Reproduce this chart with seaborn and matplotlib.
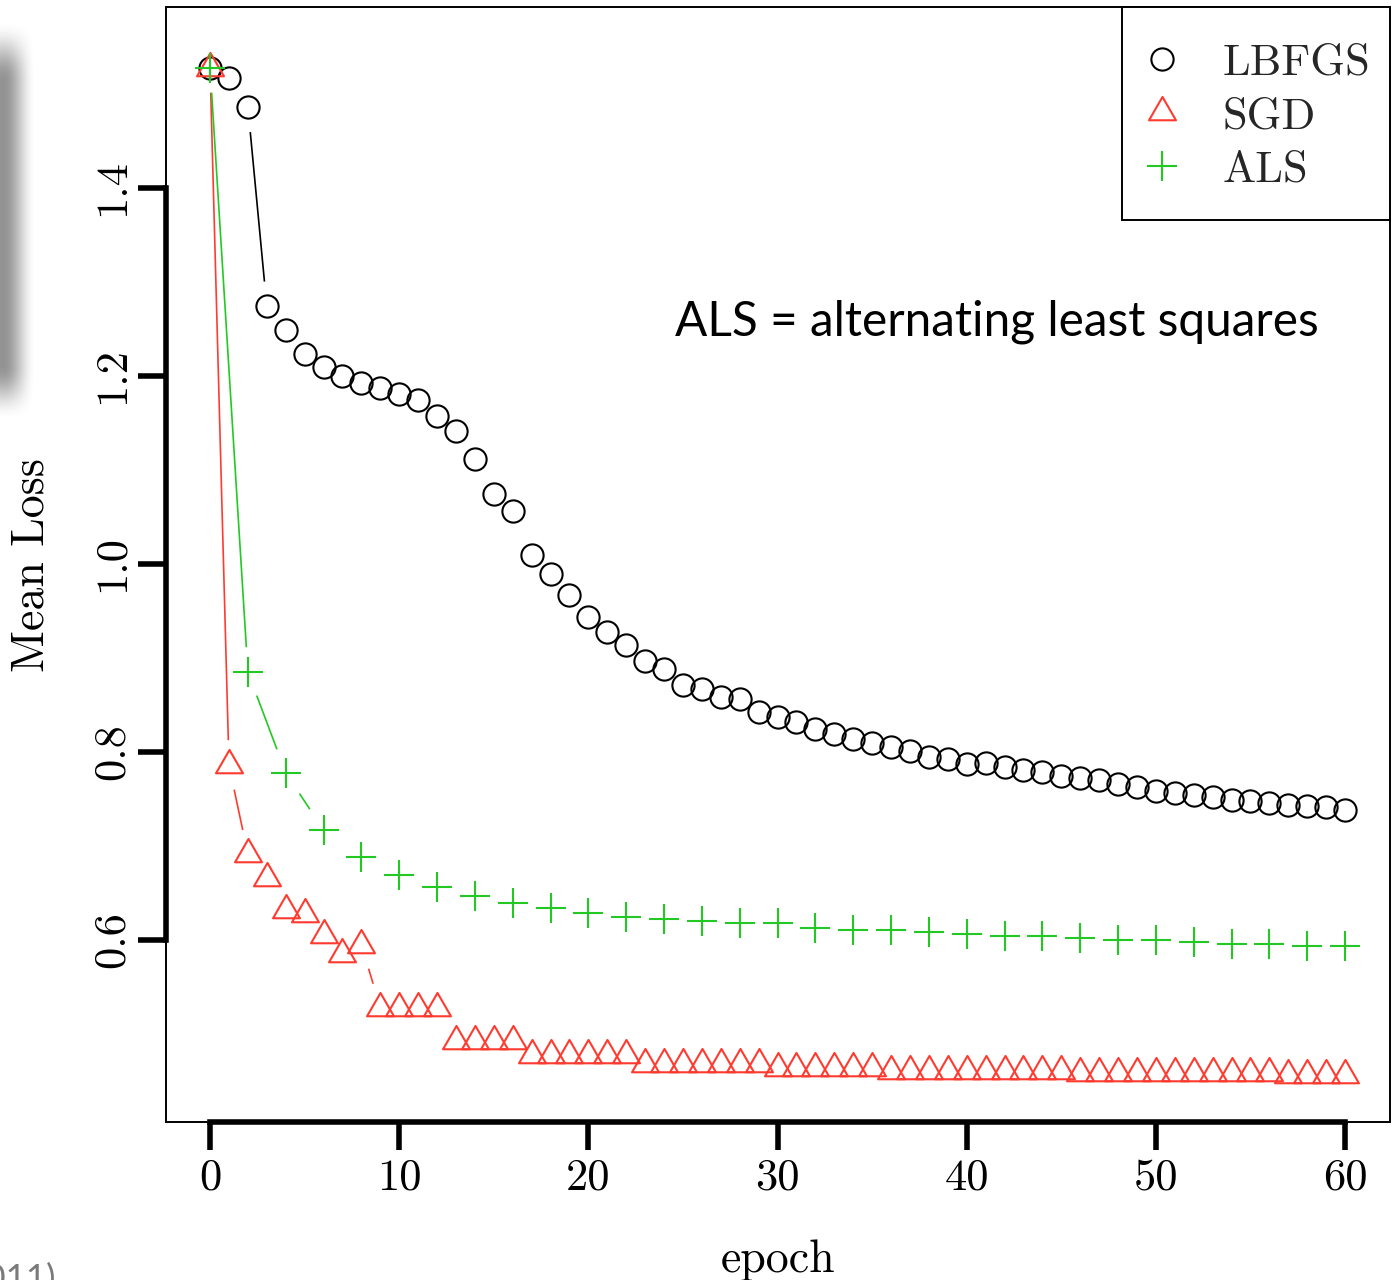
import numpy as np
import matplotlib
matplotlib.use("Agg")
import matplotlib.pyplot as plt
from matplotlib.path import Path
from matplotlib.lines import Line2D
from matplotlib.patches import Rectangle
import seaborn as sns

sns.set_theme(style="white")
plt.rcParams["font.family"] = ["cmr10", "DejaVu Serif"]

# data
epochs = list(range(61))
als_epochs = list(range(0, 61, 2))

lbfgs_loss = [1.528, 1.517, 1.486, 1.274, 1.249, 1.223, 1.210, 1.200, 1.193, 1.187,
              1.181, 1.174, 1.157, 1.141, 1.112, 1.074, 1.056, 1.010, 0.989, 0.967,
              0.944, 0.928, 0.914, 0.897, 0.888, 0.871, 0.867, 0.859, 0.856, 0.843,
              0.837, 0.832, 0.824, 0.819, 0.814, 0.810, 0.805, 0.801, 0.795, 0.793,
              0.787, 0.788, 0.784, 0.781, 0.779, 0.774, 0.772, 0.770, 0.766, 0.763,
              0.759, 0.756, 0.754, 0.752, 0.749, 0.748, 0.746, 0.744, 0.743, 0.741,
              0.738]

sgd_loss = [1.528, 0.786, 0.691, 0.666, 0.632, 0.628, 0.605, 0.585, 0.595,
            0.528, 0.528, 0.528, 0.528,
            0.493, 0.493, 0.493, 0.493,
            0.478, 0.478, 0.478, 0.478, 0.478, 0.478,
            0.468, 0.468, 0.468, 0.468, 0.468, 0.468, 0.468,
            0.464, 0.464, 0.464, 0.464, 0.464, 0.464,
            0.461, 0.461, 0.461, 0.461, 0.461, 0.461, 0.461, 0.461, 0.461, 0.461,
            0.459, 0.459, 0.459, 0.459, 0.459, 0.459, 0.459, 0.459, 0.459, 0.459, 0.459,
            0.456, 0.456, 0.456, 0.456]

als_loss = [1.528, 0.885, 0.778, 0.717, 0.688, 0.669, 0.656, 0.647, 0.639, 0.634,
            0.629, 0.624, 0.622, 0.620, 0.618, 0.618, 0.613, 0.611, 0.611, 0.609,
            0.606, 0.604, 0.604, 0.602, 0.600, 0.600, 0.598, 0.596, 0.596, 0.594,
            0.594]

series_names = ["LBFGS", "SGD", "ALS"]
x_ticks = [0, 10, 20, 30, 40, 50, 60]
y_ticks = [0.6, 0.8, 1.0, 1.2, 1.4]
y_tick_labels = ["0.6", "0.8", "1.0", "1.2", "1.4"]

red = "#ff3b30"
green = "#22c922"

W, H = 1392, 1280
fig = plt.figure(figsize=(W / 100, H / 100), dpi=100, facecolor="white")
ax = fig.add_axes([166 / W, 1 - 1122 / H, (1389.5 - 166) / W, (1122 - 7) / H])
ax.set_facecolor("white")
ax.set_xlim(-2.33, 62.35)
ax.set_ylim(0.4064, 1.5926)

# R-style triangle (centroid on the point)
tri = Path([(0, 1), (0.866, -0.5), (-0.866, -0.5), (0, 1)],
           [Path.MOVETO, Path.LINETO, Path.LINETO, Path.CLOSEPOLY])


def gapped_line(x, y, color, gap=25):
    # type="b": line pieces between points, stopped short of each marker
    pts = ax.transData.transform(np.column_stack([x, y]))
    inv = ax.transData.inverted()
    for p0, p1 in zip(pts[:-1], pts[1:]):
        d = p1 - p0
        L = np.hypot(d[0], d[1])
        if L <= 2 * gap:
            continue
        u = d / L
        seg = inv.transform(np.array([p0 + u * gap, p1 - u * gap]))
        ax.plot(seg[:, 0], seg[:, 1], color=color, lw=1.2, solid_capstyle="butt")


gapped_line(epochs, lbfgs_loss, "black")
gapped_line(epochs, sgd_loss, red)
gapped_line(als_epochs, als_loss, green)

sns.lineplot(x=epochs, y=lbfgs_loss, ax=ax, marker="o", markersize=16,
             markerfacecolor="none", markeredgecolor="black", markeredgewidth=1.5,
             linestyle="none", color="black", legend=False)
sns.lineplot(x=epochs, y=sgd_loss, ax=ax, marker=tri, markersize=22.4,
             markerfacecolor="none", markeredgecolor=red, markeredgewidth=1.5,
             linestyle="none", color=red, legend=False)
sns.lineplot(x=als_epochs, y=als_loss, ax=ax, marker="+", markersize=22,
             markeredgecolor=green, markeredgewidth=1.5,
             linestyle="none", color=green, legend=False)

# frame + R-style axes
for s in ax.spines.values():
    s.set_visible(False)
ax.add_patch(Rectangle((0, 0), 1, 1, transform=ax.transAxes, fill=False,
                       lw=1.4, ec="black", clip_on=False, zorder=5))
ax.spines["left"].set_visible(True)
ax.spines["bottom"].set_visible(True)
ax.spines["left"].set_bounds(0.6, 1.4)
ax.spines["bottom"].set_bounds(0, 60)
ax.spines["left"].set_linewidth(4)
ax.spines["bottom"].set_linewidth(4)
ax.spines["left"].set_color("black")
ax.spines["bottom"].set_color("black")

ax.set_xticks(x_ticks)
ax.set_xticklabels([str(t) for t in x_ticks])
ax.set_yticks(y_ticks)
ax.set_yticklabels(y_tick_labels, rotation=90, va="center")
ax.tick_params(axis="both", direction="out", length=20, width=4, color="black",
               labelsize=32, labelcolor="black", bottom=True, left=True)
ax.tick_params(axis="x", pad=6)
ax.tick_params(axis="y", pad=4)
ax.grid(False)

ax.set_xlabel("epoch", fontsize=33, color="black")
ax.set_ylabel("Mean Loss", fontsize=33, color="black")
ax.xaxis.set_label_coords(0.5, -0.124)
ax.xaxis.label.set_va("center")
ax.yaxis.set_label_coords(-0.1095, 0.5)
ax.yaxis.label.set_va("center")

# legend box (drawn separately so the inner padding can match R's)
bx0 = (1122 - 166) / 1223.5
by0 = (1122 - 220) / 1115
ax.add_patch(Rectangle((bx0, by0), 1 - bx0, 1 - by0, transform=ax.transAxes,
                       fc="white", ec="black", lw=1.4, clip_on=False, zorder=6))
handles = [
    Line2D([], [], linestyle="none", marker="o", ms=16, mfc="none", mec="black", mew=1.5),
    Line2D([], [], linestyle="none", marker=tri, ms=22.4, mfc="none", mec=red, mew=1.5),
    Line2D([], [], linestyle="none", marker="+", ms=22, mec=green, mew=1.5),
]
leg = ax.legend(handles, series_names, loc="center left",
                bbox_to_anchor=((1144 - 166) / 1223.5, (1122 - 117) / 1115),
                borderaxespad=0, borderpad=0, frameon=False,
                fontsize=32, handlelength=0.81, handletextpad=0.95,
                labelspacing=0.31)
leg.set_zorder(7)

ax.text(0.679, 0.7175, "ALS = alternating least squares", transform=ax.transAxes,
        ha="center", va="center", fontsize=34.4, family=["Lato", "DejaVu Sans"],
        color="black")

# slide leftovers: blurred shadow at the left edge and a clipped citation
sh = fig.add_axes([0, 1 - 440 / H, 50 / W, 430 / H])
yy = np.arange(430)[:, None] + 10.0
xx = np.arange(50)[None, :] + 0.5
sx = np.clip((36 - xx) / 32, 0, 1)
sy = np.clip((yy - 20) / 60, 0, 1) * np.clip((420 - yy) / 55, 0, 1)
sx = sx * sx * (3 - 2 * sx)
sy = sy * sy * (3 - 2 * sy)
shade = 0.42 * sx * sy
sh.imshow(1 - shade, cmap="gray", vmin=0, vmax=1, aspect="auto")
sh.axis("off")

fig.text(56 / W, -9 / H, "(2011)", ha="right", va="baseline", fontsize=25,
         family=["Lato", "DejaVu Sans"], color="#7a7a7a")

fig.savefig("out.png", dpi=100, facecolor="white")
